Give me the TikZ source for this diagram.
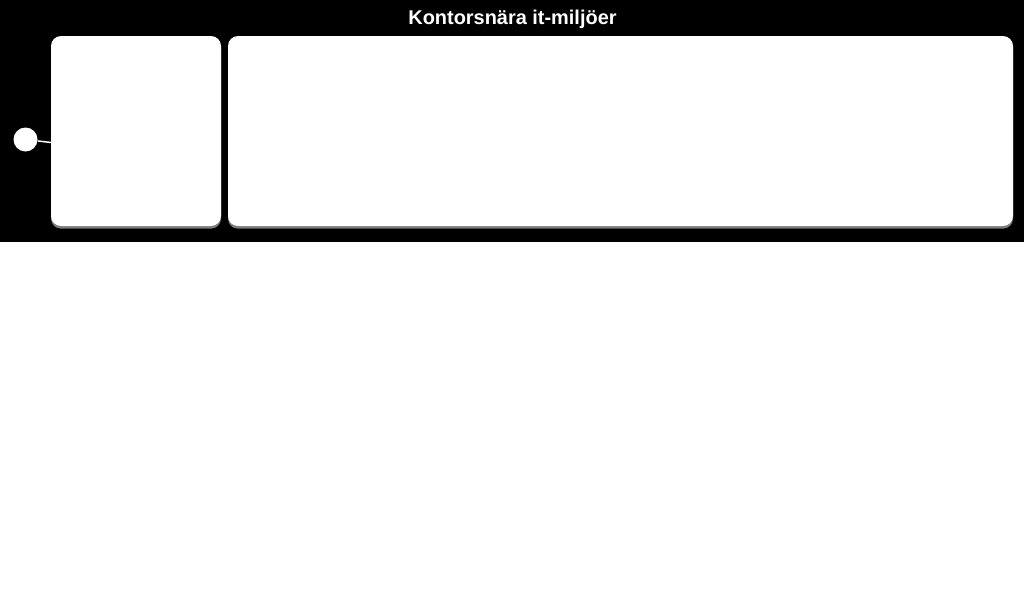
\documentclass[tikz,border=0pt]{standalone}
\usepackage{fontspec}
\setmainfont{Liberation Sans}
\usetikzlibrary{shadows}
\tikzset{
  panel/.style={draw=none,fill=white,rounded corners=7.5,minimum height=190*0.75pt,
    drop shadow={shadow xshift=0pt,shadow yshift=-2pt,fill=gray!60,opacity=0.7}},
}
\begin{document}
\begin{tikzpicture}[x=0.75pt,y=-0.75pt]
  \useasboundingbox (0,0) rectangle (1024,603);
  \fill[black] (0,0) rectangle (1024,242); %黑底
  \node[text=white,font=\bfseries\fontsize{14.95}{17}\selectfont] (title) at (512.5,19.5) {Kontorsnära it-miljöer};
  \node[panel,minimum width=170*0.75pt] (left) at (136,131) {};
  \node[panel,minimum width=785*0.75pt] (right) at (620.5,131) {};
  \node[circle,fill=white,inner sep=0pt,minimum size=24*0.75pt] (dot) at (25.5,139.5) {};
  \coordinate (hook) at (51,142.5);
  \draw[white,line width=1.1pt] (dot) -- (hook);
\end{tikzpicture}
\end{document}
